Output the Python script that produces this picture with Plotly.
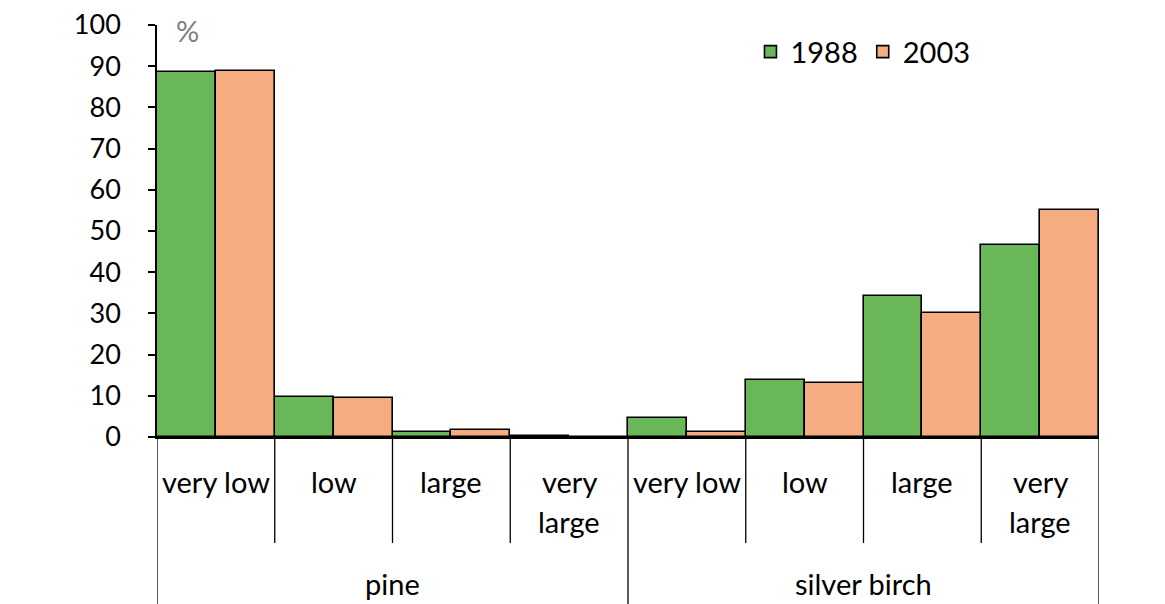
import plotly.graph_objects as go

# data
species = ["pine", "silver birch"]
classes = ["very low", "low", "large", "very large"]
class_lines = [["very low"], ["low"], ["large"], ["very", "large"]]
years = ["1988", "2003"]
values_1988 = [88.6, 9.8, 1.2, 0.2, 4.5, 13.8, 34.3, 46.6]
values_2003 = [88.8, 9.5, 1.6, 0.05, 1.1, 13.1, 30.0, 55.0]
y_ticks = [0, 10, 20, 30, 40, 50, 60, 70, 80, 90, 100]

colors = ["#6ab75a", "#f4ac80"]
FONT = "Lato"
FS = 29

n_cls = len(classes)
x_pos = list(range(len(species) * n_cls))

fig = go.Figure()
for name, vals, col in zip(years, [values_1988, values_2003], colors):
    fig.add_trace(go.Bar(
        x=x_pos, y=vals, name=name,
        marker=dict(color=col, line=dict(color="black", width=1.6)),
    ))

# px -> paper helpers for the area below the axis
plot_h = 437 - 25
def below(px):
    return -px / plot_h

shapes = []
annotations = []
for s_i, sp in enumerate(species):
    for c_i, lines in enumerate(class_lines):
        x = s_i * n_cls + c_i
        # boundary lines
        if c_i == 0:
            shapes.append(dict(type="line", xref="x", yref="paper", x0=x - 0.5, x1=x - 0.5,
                               y0=0, y1=below(175), line=dict(color="black", width=1.3)))
        else:
            shapes.append(dict(type="line", xref="x", yref="paper", x0=x - 0.5, x1=x - 0.5,
                               y0=0, y1=below(106), line=dict(color="black", width=1.3)))
        for l_i, txt in enumerate(lines):
            annotations.append(dict(x=x, y=below(44 + 40 * l_i), xref="x", yref="paper",
                                    text=txt, showarrow=False, yanchor="middle",
                                    font=dict(family=FONT, size=FS, color="black")))
    annotations.append(dict(x=s_i * n_cls + (n_cls - 1) / 2, y=below(146), xref="x", yref="paper",
                            text=sp, showarrow=False, yanchor="middle",
                            font=dict(family=FONT, size=FS, color="black")))
last = len(x_pos) - 0.5
shapes.append(dict(type="line", xref="x", yref="paper", x0=last, x1=last,
                   y0=0, y1=below(175), line=dict(color="black", width=1.3)))

annotations.append(dict(x=0.018, y=1.035, xref="paper", yref="paper", text="%",
                        showarrow=False, xanchor="left", yanchor="top",
                        font=dict(family=FONT, size=FS, color="#7f7f7f")))

fig.update_layout(
    width=1165, height=604,
    margin=dict(l=149, r=74, t=17, b=175),
    paper_bgcolor="white", plot_bgcolor="white",
    barmode="group", bargap=0, bargroupgap=0,
    font=dict(family=FONT, size=FS, color="black"),
    showlegend=True,
    legend=dict(orientation="h", x=0.63, y=0.935, xanchor="left", yanchor="middle",
                font=dict(family=FONT, size=FS), bgcolor="rgba(0,0,0,0)",
                itemwidth=30, tracegroupgap=0),
    xaxis=dict(range=[-0.5, last], showticklabels=False, showgrid=False, zeroline=False,
               showline=True, linecolor="black", linewidth=1.6, ticks="", automargin=False),
    yaxis=dict(range=[0, 100], tickvals=y_ticks, showgrid=False, zeroline=False,
               showline=True, linecolor="black", linewidth=1.6, automargin=False,
               ticks="outside", ticklen=7, tickwidth=1.6, tickcolor="black",
               ticklabelstandoff=22, ticklabeloverflow="allow",
               tickfont=dict(family=FONT, size=27)),
    shapes=shapes,
    annotations=annotations,
)

fig.write_html("out.html")
